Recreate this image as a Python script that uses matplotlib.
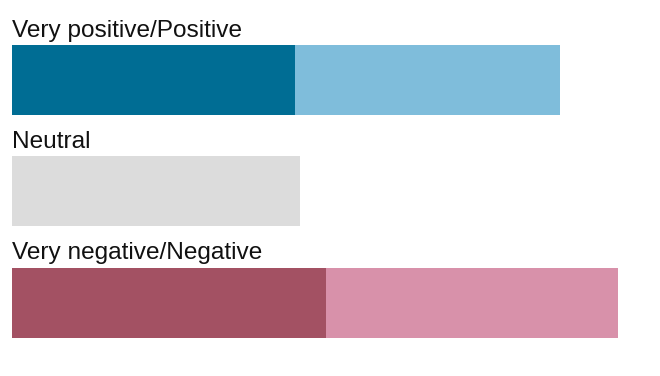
import matplotlib.pyplot as plt

labels = ["Very positive/Positive", "Neutral", "Very negative/Negative"]
strong = [28.3, 28.8, 31.4]
mild = [26.5, 0.0, 29.2]

strong_colors = ["#006d94", "#dcdcdc", "#a35163"]
mild_colors = ["#7fbddb", "#dcdcdc", "#d891aa"]

plt.rcParams['font.family'] = ['Liberation Sans', 'DejaVu Sans']

fig = plt.figure(figsize=(6.6, 3.76), dpi=100)
ax = fig.add_axes([12 / 660, 0, 1 - 12 / 660, 1])

pos = list(range(len(labels)))
h = 0.63
ax.barh(pos, strong, height=h, color=strong_colors, left=0)
ax.barh(pos, mild, height=h, color=mild_colors, left=strong)

for p, lab in zip(pos, labels):
    ax.text(0, p - h / 2 - 0.075, lab, fontsize=17.6, color="#111111",
            ha="left", va="baseline")

ax.set_xlim(0, 64.8)
ax.set_ylim(2.657, -0.718)
ax.axis("off")

fig.savefig("out.png", dpi=100)
